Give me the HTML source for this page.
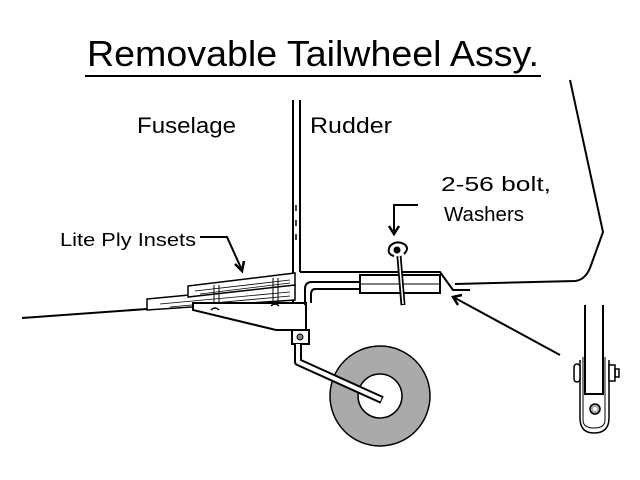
<!DOCTYPE html>
<html><head><style>html,body{margin:0;padding:0;background:#fff}svg{display:block}</style></head>
<body>
<svg width="640" height="480" viewBox="0 0 640 480" xmlns="http://www.w3.org/2000/svg" font-family="Liberation Sans, sans-serif" fill="none" stroke="#000" stroke-width="2">
<text x="87" y="66" font-size="36" fill="#000" stroke="none" textLength="452" lengthAdjust="spacingAndGlyphs">Removable Tailwheel Assy.</text>
<line x1="85" y1="76" x2="541" y2="76"/>
<text x="137" y="133" font-size="22" fill="#000" stroke="none" textLength="99" lengthAdjust="spacingAndGlyphs">Fuselage</text>
<text x="310" y="133" font-size="22" fill="#000" stroke="none" textLength="82" lengthAdjust="spacingAndGlyphs">Rudder</text>
<text x="441" y="191" font-size="20" fill="#000" stroke="none" textLength="110" lengthAdjust="spacingAndGlyphs">2-56 bolt,</text>
<text x="444" y="221" font-size="20" fill="#000" stroke="none" textLength="80" lengthAdjust="spacingAndGlyphs">Washers</text>
<text x="60" y="246" font-size="18" fill="#000" stroke="none" textLength="136" lengthAdjust="spacingAndGlyphs">Lite Ply Insets</text>
<line x1="293" y1="100" x2="293" y2="303"/>
<line x1="300" y1="100" x2="300" y2="272"/>
<path d="M296 205v6M296 220v6M296 234v6" stroke-width="1.5"/>
<path d="M300 272 H440 L453 290 H470"/>
<path d="M570 80 L603 232 L590 268 Q585 280 575 281 L455 284" />
<line x1="22" y1="318" x2="147" y2="309"/>
<path d="M147 299 L295 285 V300 L147 310 Z" stroke-width="1.5" fill="#fff"/>
<path d="M188 286 L295 273 V285 L188 297 Z" stroke-width="1.5" fill="#fff"/>
<path d="M160 304 L290 292 M170 307 L290 296 M195 291 L290 280 M200 294 L290 283" stroke-width="0.8"/>
<path d="M214 285 V306 M219 285 V306 M273 278 V302 M278 278 V302" stroke-width="1"/>
<path d="M193 303 V310 L276 330 H306 V303 Z" fill="#fff"/>
<path d="M211 310 q4 -4 8 0 M271 306 q4 -4 8 0" stroke-width="1.5"/>
<rect x="292" y="330" width="17" height="14" fill="#fff"/>
<circle cx="300" cy="337" r="3" fill="#888" stroke-width="1"/>
<path d="M360 282 H312 Q305 282 305 289 V305"/>
<path d="M360 289 H315 Q311 289 311 295 V303"/>
<rect x="360" y="275" width="80" height="18" fill="#fff"/>
<line x1="360" y1="284" x2="440" y2="284" stroke-width="1"/>
<path d="M399 256 L403 305" stroke-width="5"/>
<path d="M399 256 L403 304" stroke="#fff" stroke-width="1.5"/>
<path d="M404 254 Q410 248 404 244 Q396 240 390 246 Q386 254 394 256" stroke-width="2"/>
<circle cx="397" cy="250" r="2.5" fill="#000"/>
<circle cx="380" cy="396" r="50" fill="#aaa" stroke-width="1.5"/>
<circle cx="380" cy="396" r="22" fill="#fff" stroke-width="1.5"/>
<path d="M298 344 V362 L382 400" stroke-width="8" stroke-linejoin="round"/>
<path d="M298 344 V362 L381 399.5" stroke="#fff" stroke-width="4" stroke-linejoin="round"/>
<path d="M200 237 H227 L241 268"/>
<path d="M235 264 L242 271 L244 261" stroke-width="2.5"/>
<path d="M418 205 H394 V232"/>
<path d="M389 226 L394 234 L399 226" stroke-width="2.5"/>
<line x1="560" y1="355" x2="455" y2="298"/>
<path d="M462 295 L453 297 L458 305" stroke-width="2.5"/>
<line x1="585" y1="305" x2="585" y2="395"/>
<line x1="603" y1="305" x2="603" y2="395"/>
<line x1="585" y1="394" x2="603" y2="394"/>
<path d="M580 360 V418 Q580 433 594 433 Q609 433 609 418 V360" stroke-width="1.5"/>
<path d="M583 357 V420 Q583 428 594 428 Q605 428 605 420 V357" stroke-width="1"/>
<rect x="574" y="364" width="6" height="18" rx="3" stroke-width="1.5" fill="#fff"/>
<rect x="609" y="365" width="6" height="16" stroke-width="1.5" fill="#fff"/>
<rect x="615" y="369" width="4" height="8" stroke-width="1.5"/>
<circle cx="595" cy="409" r="5" fill="#aaa" stroke-width="1.5"/>
<circle cx="595" cy="409" r="2" fill="#fff" stroke="none"/>
</svg>
</body></html>
